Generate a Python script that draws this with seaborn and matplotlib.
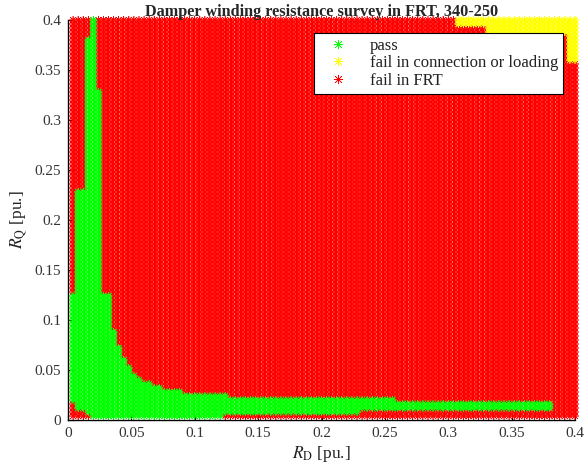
import numpy as np
import pandas as pd
import matplotlib
matplotlib.use("Agg")
import matplotlib.pyplot as plt
import seaborn as sns

# ---- survey grid (R_D and R_Q sweep values, pu.) ----
rd_values = np.round(np.arange(1, 101) * 0.004, 3)
rq_values = np.round(np.arange(1, 101) * 0.004, 3)

# ---- "pass" region: row bands (R_Q) with R_D interval ----
green_rq_lo = [0.384, 0.332, 0.232, 0.128, 0.092, 0.076, 0.064, 0.056, 0.048,
               0.044, 0.040, 0.036, 0.032, 0.028, 0.024, 0.020, 0.012, 0.008, 0.004]
green_rq_hi = [0.400, 0.380, 0.328, 0.228, 0.124, 0.088, 0.072, 0.060, 0.052,
               0.044, 0.040, 0.036, 0.032, 0.028, 0.024, 0.020, 0.016, 0.008, 0.004]
green_rd_lo = [0.020, 0.016, 0.016, 0.008, 0.004, 0.004, 0.004, 0.004, 0.004,
               0.004, 0.004, 0.004, 0.004, 0.004, 0.004, 0.004, 0.004, 0.004, 0.004]
green_rd_hi = [0.020, 0.020, 0.024, 0.024, 0.032, 0.036, 0.040, 0.044, 0.048,
               0.052, 0.056, 0.064, 0.072, 0.088, 0.124, 0.256, 0.380, 0.228, 0.120]

# ---- small FRT-fail cluster at bottom-left ----
red_rq_rows = [0.016, 0.012, 0.008, 0.004]
red_rd_hi = [0.004, 0.004, 0.012, 0.016]

# ---- "fail in connection or loading" region (top-right) ----
yellow_rq_lo = [0.396, 0.388, 0.360]
yellow_rq_hi = [0.400, 0.392, 0.384]
yellow_rd_lo = [0.308, 0.332, 0.396]

labels = ["pass", "fail in connection or loading", "fail in FRT"]
colors = ["#00FF00", "#FFFF00", "#FF0000"]

eps = 1e-9
rows = []
for rq in rq_values:
    for rd in rd_values:
        status = "fail in FRT"
        for a, b, c, d in zip(green_rq_lo, green_rq_hi, green_rd_lo, green_rd_hi):
            if a - eps <= rq <= b + eps and c - eps <= rd <= d + eps:
                status = "pass"
        for r, h in zip(red_rq_rows, red_rd_hi):
            if abs(rq - r) < eps and rd <= h + eps:
                status = "fail in FRT"
        for a, b, c in zip(yellow_rq_lo, yellow_rq_hi, yellow_rd_lo):
            if a - eps <= rq <= b + eps and rd >= c - eps:
                status = "fail in connection or loading"
        rows.append((rd, rq, status))
df = pd.DataFrame(rows, columns=["RD", "RQ", "status"])
order_key = {"fail in FRT": 0, "fail in connection or loading": 1, "pass": 2}
df = df.sort_values("status", key=lambda s: s.map(order_key), kind="stable")

sns.set_style("white")
plt.rcParams["font.family"] = ["Liberation Serif", "DejaVu Serif"]
plt.rcParams["mathtext.fontset"] = "stix"

fig = plt.figure(figsize=(5.86, 4.75), dpi=100)
ax = fig.add_axes([68 / 586, 1 - 420 / 475, (575 - 68) / 586, 400 / 475])

sns.scatterplot(data=df, x="RD", y="RQ", hue="status", hue_order=labels,
                palette=dict(zip(labels, colors)), marker=(8, 2, 0), s=30,
                linewidth=0.45, ax=ax, clip_on=False, zorder=1)

ticks = [0, 0.05, 0.1, 0.15, 0.2, 0.25, 0.3, 0.35, 0.4]
tick_labels = ["0", "0.05", "0.1", "0.15", "0.2", "0.25", "0.3", "0.35", "0.4"]
ax.set_xlim(0, 0.4)
ax.set_ylim(0, 0.4)
ax.set_xticks(ticks)
ax.set_xticklabels(tick_labels)
ax.set_yticks(ticks)
ax.set_yticklabels(tick_labels)
ax.tick_params(direction="in", length=4, width=0.8, labelsize=11,
               labelcolor="#333333", color="black", pad=5,
               bottom=True, left=True)
for side in ["top", "right"]:
    ax.spines[side].set_visible(False)
for side in ["left", "bottom"]:
    ax.spines[side].set_color("black")
    ax.spines[side].set_linewidth(1.0)
    ax.spines[side].set_zorder(3)

ax.set_xlabel(r"$R_{\mathrm{D}}$ [pu.]", fontsize=12.5, color="#222222", labelpad=3)
ax.set_ylabel(r"$R_{\mathrm{Q}}$ [pu.]", fontsize=12.5, color="#222222", labelpad=3)
ax.set_title("Damper winding resistance survey in FRT, 340-250",
             fontsize=11.7, fontweight="bold", pad=3)

leg = ax.legend(loc="upper right", bbox_to_anchor=((563 - 68) / 507, (420 - 33) / 400),
                borderaxespad=0, frameon=True, fancybox=False, fontsize=12,
                markerscale=1.2, handletextpad=0.75, labelspacing=0.08,
                borderpad=0.3, handlelength=2.3, title=None)
leg.get_frame().set_edgecolor("black")
leg.get_frame().set_linewidth(0.8)
leg.get_frame().set_alpha(1)
for t in leg.get_texts():
    t.set_color("#222222")
leg.set_zorder(5)

fig.savefig("out.png", dpi=100)
